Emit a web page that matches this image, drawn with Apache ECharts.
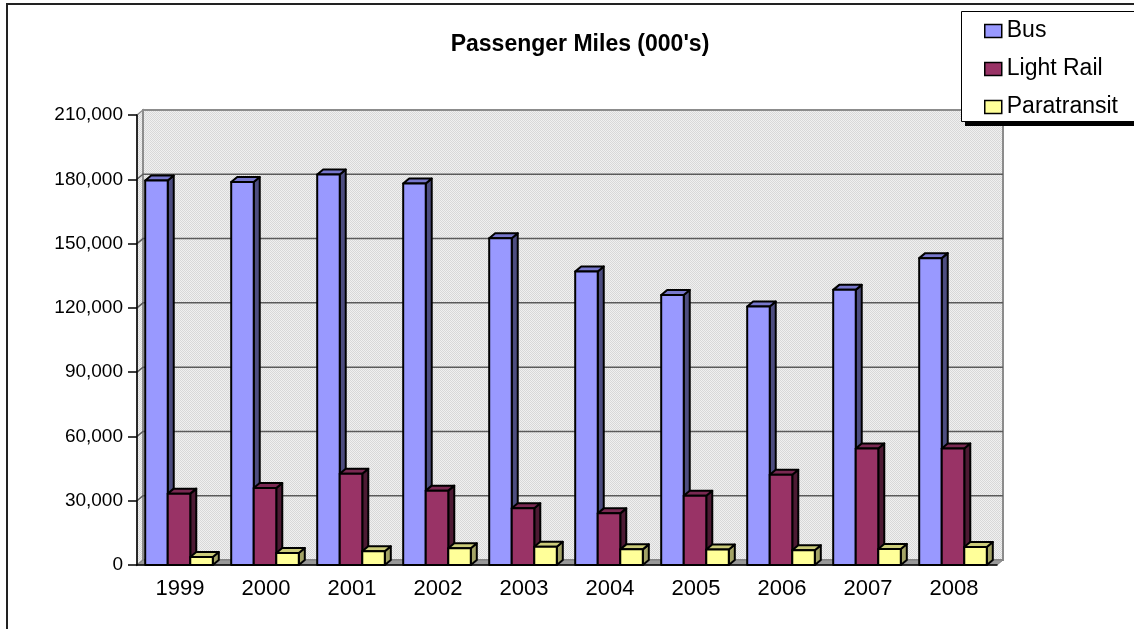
<!DOCTYPE html>
<html>
<head>
<meta charset="utf-8">
<title>Passenger Miles (000's)</title>
<script src="https://cdn.jsdelivr.net/npm/echarts@6/dist/echarts.min.js"></script>
<style>
  html, body { margin: 0; padding: 0; background: #fff; }
  #chart { width: 1134px; height: 629px; }
</style>
</head>
<body>
<div id="chart"></div>
<script>
// Passenger miles (thousands) by mode, 1999-2008
const years = ['1999', '2000', '2001', '2002', '2003', '2004', '2005', '2006', '2007', '2008'];
const busMiles = [179400, 178700, 182200, 178000, 152500, 137000, 126000, 120600, 128400, 143200];
const lightRailMiles = [33300, 35900, 42600, 34700, 26500, 24100, 32300, 42100, 54400, 54400];
const paratransitMiles = [3700, 5600, 6400, 7800, 8500, 7300, 7200, 6900, 7500, 8400];
const seriesNames = ['Bus', 'Light Rail', 'Paratransit'];

const yMax = 210000;
const yStep = 30000;

// 3-D depth offset used for the walls, floor and column boxes
const depthX = 6;
const depthY = -5;

const FONT = 'Arial, "Liberation Sans", sans-serif';

const faceColors = [
  { front: '#9999ff', top: '#7777cc', side: '#4d4d80' },
  { front: '#993366', top: '#7a2952', side: '#4d1a33' },
  { front: '#ffff99', top: '#cccc7a', side: '#a3a366' }
];

// dithered grey used on the back and side walls
function wallPattern() {
  const c = document.createElement('canvas');
  c.width = 2; c.height = 2;
  const g = c.getContext('2d');
  g.fillStyle = '#f0f0f0';
  g.fillRect(0, 0, 2, 2);
  g.fillStyle = '#d8d8d8';
  g.fillRect(0, 0, 1, 1);
  g.fillRect(1, 1, 1, 1);
  return c;
}
const wallFill = { image: wallPattern(), repeat: 'repeat' };

function renderWalls(params, api) {
  const cs = params.coordSys;
  const x0 = cs.x, x1 = cs.x + cs.width;
  const yTop = cs.y, yBot = cs.y + cs.height;
  const children = [];
  // side wall
  children.push({
    type: 'polygon',
    shape: { points: [[x0, yTop], [x0 + depthX, yTop + depthY], [x0 + depthX, yBot + depthY], [x0, yBot]] },
    style: { fill: wallFill, stroke: '#8c8c8c', lineWidth: 1.5 }
  });
  // back wall
  children.push({
    type: 'rect',
    shape: { x: x0 + depthX, y: yTop + depthY, width: cs.width, height: cs.height },
    style: { fill: wallFill, stroke: '#8c8c8c', lineWidth: 2 }
  });
  // floor
  children.push({
    type: 'polygon',
    shape: { points: [[x0, yBot], [x0 + depthX, yBot + depthY], [x1 + depthX, yBot + depthY], [x1, yBot]] },
    style: { fill: '#999999', stroke: '#808080', lineWidth: 1 }
  });
  // gridlines across the walls
  for (let v = yStep; v < yMax; v += yStep) {
    const y = api.coord([0, v])[1];
    children.push({
      type: 'polyline',
      shape: { points: [[x0, y], [x0 + depthX, y + depthY], [x1 + depthX, y + depthY]] },
      style: { stroke: '#5a5a5a', lineWidth: 1.5, fill: null }
    });
  }
  return { type: 'group', children: children };
}

function makeBarRenderer(seriesIndex) {
  const col = faceColors[seriesIndex];
  return function (params, api) {
    const cat = api.value(0);
    const val = api.value(1);
    const base = api.coord([cat, 0]);
    const topPt = api.coord([cat, val]);
    const band = api.size([1, 0])[0];
    const bw = band * 0.262;
    const x = base[0] - 1.5 * bw - 1 + seriesIndex * bw;
    const y0 = base[1];
    const yv = topPt[1];
    const stroke = { stroke: '#000', lineWidth: 2, lineJoin: 'round' };
    return {
      type: 'group',
      children: [
        {
          type: 'polygon',
          shape: { points: [[x + bw, yv], [x + bw + depthX, yv + depthY], [x + bw + depthX, y0 + depthY], [x + bw, y0]] },
          style: Object.assign({ fill: col.side }, stroke)
        },
        {
          type: 'polygon',
          shape: { points: [[x, yv], [x + depthX, yv + depthY], [x + bw + depthX, yv + depthY], [x + bw, yv]] },
          style: Object.assign({ fill: col.top }, stroke)
        },
        {
          type: 'rect',
          shape: { x: x, y: yv, width: bw, height: y0 - yv },
          style: Object.assign({ fill: col.front }, stroke)
        }
      ]
    };
  };
}

function toPairs(values) {
  return values.map(function (v, i) { return [i, v]; });
}

const seriesValues = [busMiles, lightRailMiles, paratransitMiles];

const series = [{
  type: 'custom',
  name: 'walls',
  silent: true,
  z: 1,
  renderItem: renderWalls,
  data: [[0, 0]]
}];
seriesValues.forEach(function (vals, i) {
  series.push({
    type: 'custom',
    name: seriesNames[i],
    z: 3,
    renderItem: makeBarRenderer(i),
    itemStyle: { color: faceColors[i].front, borderColor: '#000', borderWidth: 1.5 },
    encode: { x: 0, y: 1 },
    data: toPairs(vals)
  });
});

const chart = echarts.init(document.getElementById('chart'));
chart.setOption({
  animation: false,
  backgroundColor: '#ffffff',
  textStyle: { fontFamily: FONT },
  title: {
    text: "Passenger Miles (000's)",
    left: 575,
    textAlign: 'center',
    top: 28,
    textStyle: { fontFamily: FONT, fontSize: 23, fontWeight: 'bold', color: '#000' }
  },
  legend: {
    orient: 'vertical',
    left: 984,
    top: 18,
    z: 30,
    padding: 0,
    itemWidth: 17,
    itemHeight: 13,
    itemGap: 12,
    icon: 'rect',
    data: seriesNames,
    itemStyle: { borderColor: '#000', borderWidth: 1.5 },
    textStyle: { fontFamily: FONT, fontSize: 23, lineHeight: 26, color: '#000' }
  },
  grid: { left: 137, right: 137, top: 115, bottom: 64 },
  xAxis: {
    type: 'category',
    data: years,
    z: 5,
    axisLine: { lineStyle: { color: '#000', width: 1.5 } },
    axisTick: { length: 8, lineStyle: { color: '#555', width: 1.5 } },
    axisLabel: { fontFamily: FONT, fontSize: 22, color: '#000', margin: 13 },
    splitLine: { show: false }
  },
  yAxis: {
    type: 'value',
    min: 0,
    max: yMax,
    interval: yStep,
    z: 5,
    axisLine: { show: true, lineStyle: { color: '#000', width: 1.5 } },
    axisTick: { show: true, length: 9, lineStyle: { color: '#000', width: 1.5 } },
    axisLabel: {
      fontFamily: FONT, fontSize: 19, color: '#000', margin: 14,
      formatter: function (v) { return v.toLocaleString('en-US'); }
    },
    splitLine: { show: false }
  },
  graphic: [
    {
      // chart frame
      type: 'rect',
      silent: true,
      z: 100,
      shape: { x: 7, y: 4, width: 1300, height: 800 },
      style: { fill: 'none', stroke: '#222', lineWidth: 2 }
    },
    {
      // legend box drop shadow
      type: 'rect',
      silent: true,
      z: 20,
      shape: { x: 965, y: 15, width: 220, height: 111 },
      style: { fill: '#000' }
    },
    {
      // legend box
      type: 'rect',
      silent: true,
      z: 21,
      shape: { x: 961.5, y: 11.5, width: 220, height: 110 },
      style: { fill: '#fff', stroke: '#000', lineWidth: 1 }
    }
  ],
  series: series
});
</script>
</body>
</html>
